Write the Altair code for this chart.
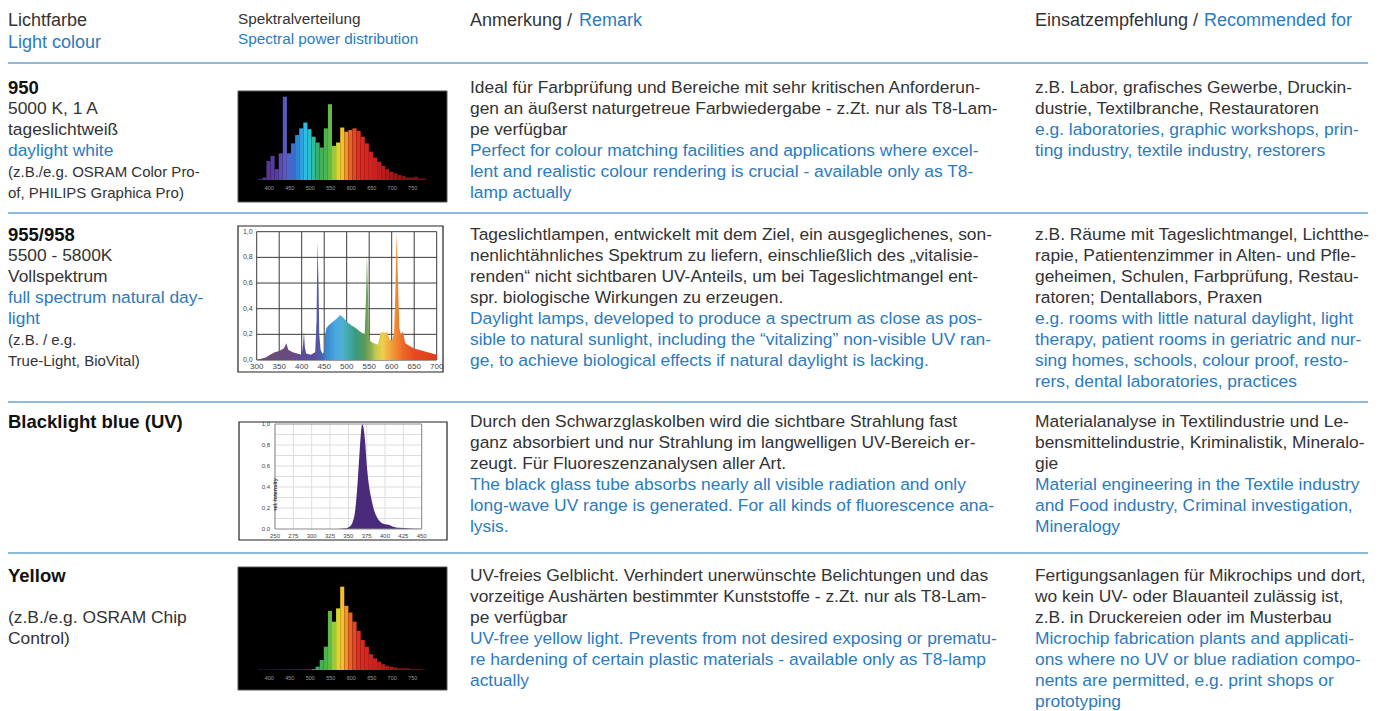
import altair as alt
import pandas as pd

# ---------------- data ----------------
# Spectrum 950 (10 nm bins, relative %)
bins_nm = [378 + 10 * i for i in range(41)]
rel_950 = [1, 3, 23, 29, 13, 32, 100, 32, 44, 54, 62, 69, 61, 52, 45, 39, 62, 91, 41, 45,
           63, 58, 60, 62, 59, 52, 44, 34, 27, 22, 17, 13, 10, 8, 6, 5, 3, 3, 4, 2, 2]
# Spectrum Yellow (10 nm bins, relative %)
rel_yellow = [0.4] * 13 + [1, 4, 12, 28, 71, 58, 74, 100, 77, 69, 58, 47, 36, 28, 19, 14, 10,
                           7, 5, 4, 3, 2, 2, 2, 1, 1, 1, 0.5]
black_ticks = [400, 450, 500, 550, 600, 650, 700, 750]

# Spectrum 955/958
wl_955 = [300, 310, 320, 330, 340, 350, 360, 363, 366, 370, 380, 390, 400, 403, 405, 407, 410,
          420, 430, 433, 435, 437, 439, 442, 446, 450, 452, 455, 460, 470, 480, 485, 490, 500,
          510, 520, 530, 540, 543, 545, 547, 550, 555, 560, 570, 575, 580, 585, 590, 595, 600,
          605, 608, 611, 614, 617, 620, 625, 630, 635, 640, 650, 660, 670, 680, 690, 700]
val_955 = [0.0, 0.01, 0.02, 0.04, 0.06, 0.07, 0.09, 0.11, 0.13, 0.08, 0.06, 0.05, 0.04, 0.12,
           0.22, 0.10, 0.05, 0.04, 0.06, 0.30, 0.92, 0.65, 0.20, 0.08, 0.05, 0.06, 0.20, 0.25,
           0.27, 0.30, 0.33, 0.35, 0.34, 0.30, 0.27, 0.25, 0.22, 0.20, 0.50, 0.82, 0.55, 0.16,
           0.14, 0.13, 0.12, 0.21, 0.22, 0.21, 0.22, 0.16, 0.15, 0.20, 0.50, 0.99, 0.60, 0.25,
           0.20, 0.22, 0.13, 0.12, 0.11, 0.09, 0.08, 0.07, 0.06, 0.05, 0.04]
x_ticks_955 = [300, 350, 400, 450, 500, 550, 600, 650, 700]
y_ticks_955 = [0.0, 0.2, 0.4, 0.6, 0.8, 1.0]
y_labels_955 = ["0,0", "0,2", "0,4", "0,6", "0,8", "1,0"]

# Spectrum Blacklight blue (UV)
wl_uv = [250, 300, 330, 340, 345, 350, 353, 356, 359, 362, 365, 367, 369, 371, 373, 375, 378,
         381, 385, 390, 395, 400, 405, 410, 420, 430, 440, 450]
val_uv = [0, 0, 0, 0.003, 0.006, 0.015, 0.03, 0.07, 0.16, 0.38, 0.70, 0.90, 1.0, 0.95, 0.82,
          0.62, 0.42, 0.30, 0.18, 0.10, 0.06, 0.045, 0.04, 0.025, 0.012, 0.006, 0.002, 0]
x_ticks_uv = [250, 275, 300, 325, 350, 375, 400, 425, 450]
y_grid_uv = [0.1, 0.2, 0.3, 0.4, 0.5, 0.6, 0.7, 0.8, 0.9]
y_ticks_uv = [0.0, 0.2, 0.4, 0.6, 0.8, 1.0]
y_labels_uv = ["0,0", "0,2", "0,4", "0,6", "0,8", "1,0"]
uv_axis_title = ["rel. Intensity"]

# Texts
header_cells = [("Lichtfarbe", "hd"), ("Light colour", "hl"),
                ("Spektralverteilung", "sd"), ("Spectral power distribution", "sl"),
                ("Anmerkung /", "hd"), ("Remark", "hl"),
                ("Einsatzempfehlung /", "hd"), ("Recommended for", "hl")]

col1_950 = [("950", "b"), ("5000 K, 1 A", "d"), ("tageslichtweiß", "d"), ("daylight white", "l"),
            ("(z.B./e.g. OSRAM Color Pro-", "s"), ("of, PHILIPS Graphica Pro)", "s")]
col3_950 = [("Ideal für Farbprüfung und Bereiche mit sehr kritischen Anforderun-", "d"),
            ("gen an äußerst naturgetreue Farbwiedergabe - z.Zt. nur als T8-Lam-", "d"),
            ("pe verfügbar", "d"),
            ("Perfect for colour matching facilities and applications where excel-", "l"),
            ("lent and realistic colour rendering is crucial - available only as T8-", "l"),
            ("lamp actually", "l")]
col4_950 = [("z.B. Labor, grafisches Gewerbe, Druckin-", "d"),
            ("dustrie, Textilbranche, Restauratoren", "d"),
            ("e.g. laboratories, graphic workshops, prin-", "l"),
            ("ting industry, textile industry, restorers", "l")]

col1_955 = [("955/958", "b"), ("5500 - 5800K", "d"), ("Vollspektrum", "d"),
            ("full spectrum natural day-", "l"), ("light", "l"),
            ("(z.B. / e.g.", "s"), ("True-Light, BioVital)", "s")]
col3_955 = [("Tageslichtlampen, entwickelt mit dem Ziel, ein ausgeglichenes, son-", "d"),
            ("nenlichtähnliches Spektrum zu liefern, einschließlich des „vitalisie-", "d"),
            ("renden“ nicht sichtbaren UV-Anteils, um bei Tageslichtmangel ent-", "d"),
            ("spr. biologische Wirkungen zu erzeugen.", "d"),
            ("Daylight lamps, developed to produce a spectrum as close as pos-", "l"),
            ("sible to natural sunlight, including the “vitalizing” non-visible UV ran-", "l"),
            ("ge, to achieve biological effects if natural daylight is lacking.", "l")]
col4_955 = [("z.B. Räume mit Tageslichtmangel, Lichtthe-", "d"),
            ("rapie, Patientenzimmer in Alten- und Pfle-", "d"),
            ("geheimen, Schulen, Farbprüfung, Restau-", "d"),
            ("ratoren; Dentallabors, Praxen", "d"),
            ("e.g. rooms with little natural daylight, light", "l"),
            ("therapy, patient rooms in geriatric and nur-", "l"),
            ("sing homes, schools, colour proof, resto-", "l"),
            ("rers, dental laboratories, practices", "l")]

col1_uv = [("Blacklight blue (UV)", "b")]
col3_uv = [("Durch den Schwarzglaskolben wird die sichtbare Strahlung fast", "d"),
           ("ganz absorbiert und nur Strahlung im langwelligen UV-Bereich er-", "d"),
           ("zeugt. Für Fluoreszenzanalysen aller Art.", "d"),
           ("The black glass tube absorbs nearly all visible radiation and only", "l"),
           ("long-wave UV range is generated. For all kinds of fluorescence ana-", "l"),
           ("lysis.", "l")]
col4_uv = [("Materialanalyse in Textilindustrie und Le-", "d"),
           ("bensmittelindustrie, Kriminalistik, Mineralo-", "d"),
           ("gie", "d"),
           ("Material engineering in the Textile industry", "l"),
           ("and Food industry, Criminal investigation,", "l"),
           ("Mineralogy", "l")]

col1_yel = [("Yellow", "b"), ("", "d"), ("(z.B./e.g. OSRAM Chip", "d"), ("Control)", "d")]
col3_yel = [("UV-freies Gelblicht. Verhindert unerwünschte Belichtungen und das", "d"),
            ("vorzeitige Aushärten bestimmter Kunststoffe - z.Zt. nur als T8-Lam-", "d"),
            ("pe verfügbar", "d"),
            ("UV-free yellow light. Prevents from not desired exposing or prematu-", "l"),
            ("re hardening of certain plastic materials - available only as T8-lamp", "l"),
            ("actually", "l")]
col4_yel = [("Fertigungsanlagen für Mikrochips und dort,", "d"),
            ("wo kein UV- oder Blauanteil zulässig ist,", "d"),
            ("z.B. in Druckereien oder im Musterbau", "d"),
            ("Microchip fabrication plants and applicati-", "l"),
            ("ons where no UV or blue radiation compo-", "l"),
            ("nents are permitted, e.g. print shops or", "l"),
            ("prototyping", "l")]

# ---------------- layout ----------------
W, H = 1367, 703
FONT = "Liberation Sans"
DARK = "#333333"
BLUE = "#2b7bbd"
RULE = "#6aa3d4"
FS = 17.4
LINE_H = 21


def P(v):
    return v - 8


canvas_x = alt.Scale(domain=[8, 8 + W], range=[0, W], nice=False, zero=False)
canvas_y = alt.Scale(domain=[8, 8 + H], range=[0, H], nice=False, zero=False)


def lin(domain, rng):
    return alt.Scale(domain=domain, range=rng, nice=False, zero=False)


rows = []
header_pos = [(8, 21), (8, 43), (238, 19), (238, 39), (470, 21), (579, 21), (1035, 21), (1204, 21)]
for (t, s), (x, y) in zip(header_cells, header_pos):
    rows.append({"text": t, "x": x, "y": y, "style": s})

row_tops = [88, 235, 422, 576]
col_x = [8, 470, 1035]
table = [(col1_950, col3_950, col4_950), (col1_955, col3_955, col4_955),
         (col1_uv, col3_uv, col4_uv), (col1_yel, col3_yel, col4_yel)]
for top, cells in zip(row_tops, table):
    for cx, cell in zip(col_x, cells):
        for i, (t, s) in enumerate(cell):
            if t:
                rows.append({"text": t, "x": cx, "y": top + i * LINE_H, "style": s})
text_df = pd.DataFrame(rows)

styles = {
    "hd": dict(fontSize=18, color=DARK),
    "hl": dict(fontSize=18, color=BLUE),
    "sd": dict(fontSize=15.3, color=DARK),
    "sl": dict(fontSize=15.3, color=BLUE),
    "b": dict(fontSize=18.5, color="#111111", fontWeight="bold"),
    "d": dict(fontSize=FS, color=DARK),
    "l": dict(fontSize=FS, color=BLUE),
    "s": dict(fontSize=15, color=DARK),
}

layers = []

# horizontal rules
rule_df = pd.DataFrame({"x": [8, 8, 8, 8], "x2": [1368] * 4, "y": [63, 213, 402, 553]})
layers.append(alt.Chart(rule_df).mark_rule(color=RULE, strokeWidth=1.6).encode(
    x=alt.X("x:Q", scale=canvas_x, axis=None), x2="x2:Q",
    y=alt.Y("y:Q", scale=canvas_y, axis=None)))

# frames
frame_df = pd.DataFrame({
    "x": [238, 238, 239, 238], "x2": [447, 443, 447, 447],
    "y": [91, 226, 422, 567], "y2": [202, 372, 540, 690],
    "kind": ["black", "white", "white", "black"]})
layers.append(alt.Chart(frame_df).transform_filter(alt.datum.kind == "black").mark_rect(
    fill="#000000", stroke="#555555", strokeWidth=1).encode(
    x=alt.X("x:Q", scale=canvas_x, axis=None), x2="x2:Q",
    y=alt.Y("y:Q", scale=canvas_y, axis=None), y2="y2:Q"))
layers.append(alt.Chart(frame_df).transform_filter(alt.datum.kind == "white").mark_rect(
    fill="#ffffff", stroke="#222222", strokeWidth=1.2).encode(
    x=alt.X("x:Q", scale=canvas_x, axis=None), x2="x2:Q",
    y=alt.Y("y:Q", scale=canvas_y, axis=None), y2="y2:Q"))

# spectrum colour scale (wavelength -> colour)
spec_color = alt.Scale(
    domain=[380, 420, 440, 460, 475, 490, 505, 520, 545, 560, 572, 585, 600, 620, 660, 720, 780],
    range=["#4f3290", "#5b3fa5", "#5a5cc0", "#3470cc", "#2f98dc", "#2cc3e6", "#2cbfae",
           "#3aae62", "#52b648", "#a8cc3e", "#f2dc2c", "#f3a22a", "#e85a24", "#e02a24",
           "#c82020", "#8e1616", "#6a1010"],
    interpolate="rgb")


def black_spectrum(rel, x_rng, y_rng, label_y):
    df = pd.DataFrame({"nm": bins_nm, "rel": rel})
    sx = lin([400, 750], x_rng)
    sy = lin([0, 100], y_rng)
    bars = alt.Chart(df).transform_calculate(lo="datum.nm - 5", hi="datum.nm + 5").mark_rect().encode(
        x=alt.X("lo:Q", scale=sx, axis=None), x2="hi:Q",
        y=alt.Y("rel:Q", scale=sy, axis=None), y2=alt.datum(0),
        color=alt.Color("nm:Q", scale=spec_color, legend=None))
    labels = alt.Chart(pd.DataFrame({"t": black_ticks})).mark_text(
        fontSize=5.5, color="#9a9a9a", font=FONT, baseline="middle").encode(
        x=alt.X("t:Q", scale=sx, axis=None), y=alt.value(label_y), text="t:Q")
    return [bars, labels]


layers += black_spectrum(rel_950, [P(269.3), P(412.7)], [P(180), P(96.7)], P(188.3))
layers += black_spectrum(rel_yellow, [P(269.3), P(412.7)], [P(670), P(586.7)], P(678.3))

# 955/958 chart
sx955 = lin([300, 700], [P(256.7), P(436.7)])
sy955 = lin([0, 1], [P(360), P(231.7)])
grad_nm = [300, 380, 400, 430, 445, 455, 475, 490, 505, 520, 540, 555, 565, 580, 595, 610, 625, 650, 700]
grad_col = ["#6a4a70", "#6a4a82", "#5c4a98", "#56509f", "#4a62b2", "#3a86d0", "#48a8e0",
            "#50b0d2", "#40a8a8", "#3a9a80", "#5a9a58", "#90b050", "#c8c850", "#f0d048",
            "#f0a840", "#f08830", "#ec6a28", "#e84a20", "#e03a1a"]
gradient = alt.LinearGradient(
    gradient="linear", x1=0, x2=1, y1=0, y2=0,
    stops=[alt.GradientStop(color=c, offset=(n - 300) / 400) for n, c in zip(grad_nm, grad_col)])
layers.append(alt.Chart(pd.DataFrame({"nm": x_ticks_955})).mark_rule(color="#3a3a3a", strokeWidth=1).encode(
    x=alt.X("nm:Q", scale=sx955, axis=None), y=alt.Y(datum=0, scale=sy955, axis=None), y2=alt.datum(1)))
layers.append(alt.Chart(pd.DataFrame({"v": y_ticks_955})).mark_rule(color="#3a3a3a", strokeWidth=1).encode(
    x=alt.X(datum=300, scale=sx955, axis=None), x2=alt.datum(700), y=alt.Y("v:Q", scale=sy955, axis=None)))
layers.append(alt.Chart(pd.DataFrame({"nm": wl_955, "v": val_955})).mark_area(
    color=gradient, line=False, interpolate="linear").encode(
    x=alt.X("nm:Q", scale=sx955, axis=None), y=alt.Y("v:Q", scale=sy955, axis=None), y2=alt.datum(0)))
layers.append(alt.Chart(pd.DataFrame({"nm": x_ticks_955})).mark_text(
    fontSize=8, color="#444444", font=FONT, baseline="middle", dy=7).encode(
    x=alt.X("nm:Q", scale=sx955, axis=None), y=alt.Y(datum=0, scale=sy955, axis=None), text="nm:Q"))
layers.append(alt.Chart(pd.DataFrame({"v": y_ticks_955, "t": y_labels_955})).mark_text(
    fontSize=7, color="#444444", font=FONT, baseline="middle", align="right", dx=-4).encode(
    x=alt.X(datum=300, scale=sx955, axis=None), y=alt.Y("v:Q", scale=sy955, axis=None), text="t:N"))

# Blacklight blue (UV) chart
sxuv = lin([250, 450], [P(275), P(421.7)])
syuv = lin([0, 1], [P(529), P(424)])
layers.append(alt.Chart(pd.DataFrame({"nm": x_ticks_uv})).mark_rule(color="#dddddd", strokeWidth=1).encode(
    x=alt.X("nm:Q", scale=sxuv, axis=None), y=alt.Y(datum=0, scale=syuv, axis=None), y2=alt.datum(1)))
layers.append(alt.Chart(pd.DataFrame({"v": y_grid_uv})).mark_rule(color="#dddddd", strokeWidth=1).encode(
    x=alt.X(datum=250, scale=sxuv, axis=None), x2=alt.datum(450), y=alt.Y("v:Q", scale=syuv, axis=None)))
layers.append(alt.Chart(pd.DataFrame({"nm": wl_uv, "v": val_uv})).mark_area(
    color="#4a2a7a", interpolate="monotone").encode(
    x=alt.X("nm:Q", scale=sxuv, axis=None), y=alt.Y("v:Q", scale=syuv, axis=None), y2=alt.datum(0)))
layers.append(alt.Chart(pd.DataFrame({"a": [250], "b": [450], "c": [0], "d": [1]})).mark_rect(
    fill=None, stroke="#8a8a8a", strokeWidth=1).encode(
    x=alt.X("a:Q", scale=sxuv, axis=None), x2="b:Q", y=alt.Y("c:Q", scale=syuv, axis=None), y2="d:Q"))
layers.append(alt.Chart(pd.DataFrame({"nm": x_ticks_uv})).mark_text(
    fontSize=6, color="#444444", font=FONT, baseline="middle", dy=7).encode(
    x=alt.X("nm:Q", scale=sxuv, axis=None), y=alt.Y(datum=0, scale=syuv, axis=None), text="nm:Q"))
layers.append(alt.Chart(pd.DataFrame({"v": y_ticks_uv, "t": y_labels_uv})).mark_text(
    fontSize=6, color="#444444", font=FONT, baseline="middle", align="right", dx=-5).encode(
    x=alt.X(datum=250, scale=sxuv, axis=None), y=alt.Y("v:Q", scale=syuv, axis=None), text="t:N"))
layers.append(alt.Chart(pd.DataFrame({"t": uv_axis_title})).mark_text(
    fontSize=5.5, color="#333333", font=FONT, fontWeight="bold", angle=270, baseline="middle", dx=-18).encode(
    x=alt.X(datum=250, scale=sxuv, axis=None), y=alt.Y(datum=0.5, scale=syuv, axis=None), text="t:N"))

# text layers
for s, st in styles.items():
    kw = dict(font=FONT, align="left", baseline="middle")
    kw.update(st)
    layers.append(alt.Chart(text_df).transform_filter(alt.datum.style == s).mark_text(**kw).encode(
        x=alt.X("x:Q", scale=canvas_x, axis=None),
        y=alt.Y("y:Q", scale=canvas_y, axis=None),
        text="text:N"))

chart = alt.layer(*layers).resolve_scale(
    x="independent", y="independent", color="independent"
).properties(
    width=W, height=H, padding=0, autosize=alt.AutoSizeParams(type="none")
).configure_view(stroke=None)

chart.save("out.html", embed_options={"renderer": "svg", "actions": False})
